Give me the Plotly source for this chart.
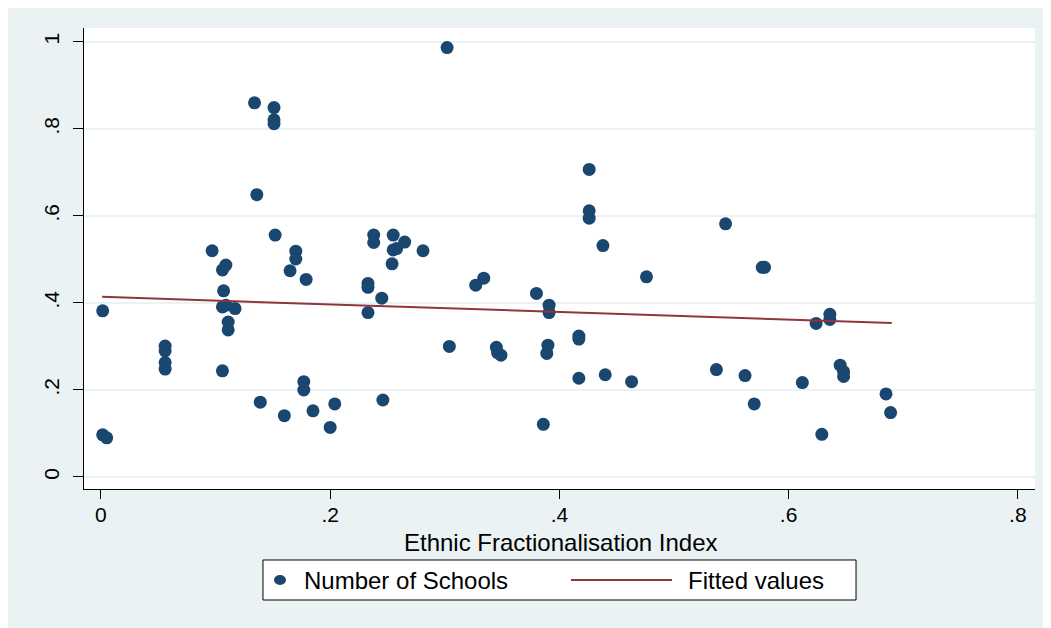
import plotly.graph_objects as go

# Ethnic Fractionalisation Index (x) and Number of Schools (y)
efi = [0.0015, 0.0015, 0.005,
       0.056, 0.056, 0.056, 0.056,
       0.097, 0.106, 0.109, 0.107, 0.106, 0.109, 0.117, 0.111, 0.111, 0.106,
       0.134, 0.136, 0.139,
       0.151, 0.151, 0.151, 0.152, 0.160,
       0.165, 0.170, 0.170, 0.177, 0.177, 0.179, 0.185,
       0.200, 0.204,
       0.233, 0.233, 0.233, 0.238, 0.238, 0.245, 0.246,
       0.254, 0.255, 0.255, 0.258, 0.265, 0.281,
       0.302, 0.304,
       0.327, 0.334, 0.345, 0.346, 0.349,
       0.380, 0.386, 0.389, 0.390, 0.391, 0.391,
       0.417, 0.417, 0.417, 0.426, 0.426, 0.426, 0.438, 0.440,
       0.463, 0.476,
       0.537, 0.545, 0.562, 0.570, 0.577, 0.579,
       0.612, 0.624, 0.629, 0.636, 0.636, 0.645, 0.648, 0.648,
       0.685, 0.689]
schools = [0.382, 0.097, 0.090,
           0.301, 0.290, 0.263, 0.248,
           0.520, 0.476, 0.487, 0.428, 0.391, 0.395, 0.387, 0.356, 0.338, 0.244,
           0.860, 0.649, 0.172,
           0.849, 0.821, 0.812, 0.556, 0.141,
           0.474, 0.519, 0.501, 0.219, 0.200, 0.454, 0.152,
           0.114, 0.168,
           0.445, 0.436, 0.378, 0.556, 0.539, 0.411, 0.177,
           0.490, 0.556, 0.522, 0.525, 0.540, 0.520,
           0.987, 0.300,
           0.441, 0.457, 0.298, 0.286, 0.280,
           0.422, 0.121, 0.284, 0.303, 0.395, 0.378,
           0.324, 0.317, 0.227, 0.707, 0.612, 0.595, 0.532, 0.235,
           0.219, 0.460,
           0.247, 0.582, 0.233, 0.168, 0.482, 0.482,
           0.217, 0.353, 0.098, 0.374, 0.362, 0.257, 0.242, 0.231,
           0.191, 0.148]

# Fitted values line endpoints
fit_x = [0.001, 0.690]
fit_y = [0.414, 0.354]

x_ticks = [0, 0.2, 0.4, 0.6, 0.8]
x_labels = ["0", ".2", ".4", ".6", ".8"]
y_ticks = [0, 0.2, 0.4, 0.6, 0.8, 1.0]
y_labels = ["0", ".2", ".4", ".6", ".8", "1"]

x_title = "Ethnic Fractionalisation Index"
legend_names = ["Number of Schools", "Fitted values"]

FONT = "Arial, Liberation Sans, sans-serif"
BG = "#EAF2F3"
NAVY = "#1a476f"
MAROON = "#90353b"
FS = 24
TFS = 21

fig = go.Figure()
fig.add_trace(go.Scatter(
    x=efi, y=schools, mode="markers", name=legend_names[0],
    marker=dict(color=NAVY, size=13, line=dict(width=0)),
))
fig.add_trace(go.Scatter(
    x=fit_x, y=fit_y, mode="lines", name=legend_names[1],
    line=dict(color=MAROON, width=2),
))

# Stata-style legend box drawn in paper coordinates
leg_y = -0.1974
shapes = [
    dict(type="rect", xref="paper", yref="paper", x0=0.1882, x1=0.8118,
         y0=-0.2408, y1=-0.154, line=dict(color="black", width=1),
         fillcolor="white", layer="above"),
    dict(type="circle", xref="paper", yref="paper", xsizemode="pixel",
         ysizemode="pixel", xanchor=0.2061, yanchor=leg_y,
         x0=-6, x1=6, y0=-5, y1=5, fillcolor=NAVY, line=dict(width=0)),
    dict(type="line", xref="paper", yref="paper", x0=0.5121, x1=0.6183,
         y0=leg_y, y1=leg_y, line=dict(color=MAROON, width=2)),
]
annotations = [
    dict(text=legend_names[0], xref="paper", yref="paper", x=0.2290, y=leg_y,
         xanchor="left", yanchor="middle", showarrow=False,
         font=dict(family=FONT, size=FS, color="black")),
    dict(text=legend_names[1], xref="paper", yref="paper", x=0.6330, y=leg_y,
         xanchor="left", yanchor="middle", showarrow=False,
         font=dict(family=FONT, size=FS, color="black")),
    dict(text=x_title, xref="paper", yref="paper", x=0.5016, y=-0.1171,
         xanchor="center", yanchor="middle", showarrow=False,
         font=dict(family=FONT, size=FS, color="black")),
]

fig.update_layout(
    width=1051, height=628,
    margin=dict(l=76, r=24, t=20, b=147),
    paper_bgcolor=BG, plot_bgcolor="white",
    font=dict(family=FONT, size=FS, color="black"),
    showlegend=False,
    shapes=shapes, annotations=annotations,
)
fig.update_xaxes(
    range=[-0.0148, 0.815], tickvals=x_ticks, ticktext=x_labels,
    showgrid=False, zeroline=False,
    showline=True, linecolor="black", linewidth=1,
    ticks="outside", ticklen=9, tickcolor="black",
    tickfont=dict(size=TFS), ticklabelstandoff=-2,
)
fig.update_yaxes(
    range=[-0.0276, 1.032], tickvals=y_ticks, ticktext=y_labels,
    showgrid=True, gridcolor=BG, gridwidth=2, zeroline=False,
    showline=True, linecolor="black", linewidth=1,
    ticks="outside", ticklen=10, tickcolor="black",
    tickangle=-90, tickfont=dict(size=TFS), ticklabelstandoff=6,
)

fig.write_html("out.html")
